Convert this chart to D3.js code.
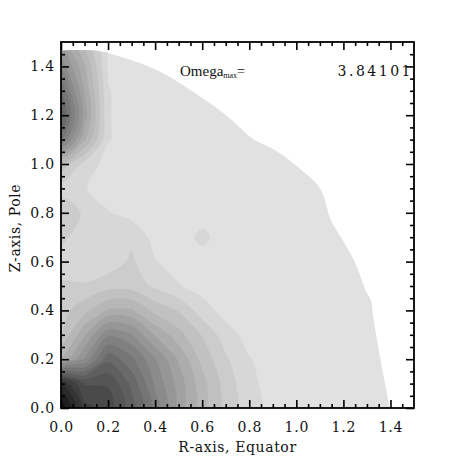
<!DOCTYPE html>
<html><head><meta charset="utf-8">
<script src="https://cdn.jsdelivr.net/npm/d3@7"></script>
<style>html,body{margin:0;padding:0;background:#fff;} svg{display:block;}</style>
</head><body>
<svg id="c" width="463" height="463"></svg>
<script>
// ---- data ----
const gridR = [0.0,0.1,0.2,0.3,0.4,0.5,0.6,0.7,0.8,0.9,1.0,1.1,1.2,1.3,1.4,1.5];
const gridZ = [0.0,0.1,0.2,0.3,0.4,0.5,0.6,0.7,0.8,0.9,1.0,1.1,1.2,1.3,1.4,1.5];
// omega values, one row per Z (bottom row first), columns along R
const omega = [
  [3.84,2.96,2.77,2.37,1.78,1.19,0.75,0.39,0.17,0,0,0,0,0,0,0],
  [3.25,2.66,2.66,2.22,1.64,1.19,0.75,0.39,0.13,0,0,0,0,0,0,0],
  [0.90,1.49,2.22,1.93,1.49,1.05,0.61,0.31,0.09,0,0,0,0,0,0,0],
  [0.46,1.05,1.64,1.49,1.05,0.75,0.46,0.17,0,0,0,0,0,0,0,0],
  [0.39,0.61,0.90,0.90,0.61,0.46,0.17,0,0,0,0,0,0,0,0,0],
  [0.31,0.31,0.39,0.39,0.24,0.09,0,0,0,0,0,0,0,0,0,0],
  [0.17,0.09,0.17,0.31,0.09,0,0,0,0,0,0,0,0,0,0,0],
  [0.33,0.17,0.09,0.24,0,0,0.12,0,0,0,0,0,0,0,0,0],
  [0.46,0.24,0.09,0,0,0,0,0,0,0,0,0,0,0,0,0],
  [0.17,0.09,0,0,0,0,0,0,0,0,0,0,0,0,0,0],
  [0.61,0.20,0,0,0,0,0,0,0,0,0,0,0,0,0,0],
  [1.93,0.90,0.09,0,0,0,0,0,0,0,0,0,0,0,0,0],
  [2.37,1.19,0.09,0,0,0,0,0,0,0,0,0,0,0,0,0],
  [2.08,1.05,0.09,0,0,0,0,0,0,0,0,0,0,0,0,0],
  [1.60,0.90,0.05,0,0,0,0,0,0,0,0,0,0,0,0,0],
  [1.19,0.61,0,0,0,0,0,0,0,0,0,0,0,0,0,0]
];
// outer surface of the star (R, Z), from the equator up to the pole
const surfR = [1.397,1.358,1.329,1.316,1.30,1.244,1.188,1.146,1.103,1.018,0.903,0.818,0.707,0.562,0.422,0.281,0.158,0];
const surfZ = [0,0.197,0.36,0.443,0.47,0.608,0.702,0.772,0.896,0.978,1.06,1.101,1.196,1.295,1.378,1.431,1.463,1.463];
const levels = [0.08,0.28,0.48,0.68,0.88,1.08,1.28,1.48,1.68,1.88,2.08,2.28,2.48,2.68,2.88,3.08,3.28,3.48,3.68];
const omegaMax = "3.84101";
const majorTicks = [0,0.2,0.4,0.6,0.8,1.0,1.2,1.4];
const minorTicks = [0.05,0.1,0.15,0.25,0.3,0.35,0.45,0.5,0.55,0.65,0.7,0.75,0.85,0.9,0.95,1.05,1.1,1.15,1.25,1.3,1.35,1.45];

// ---- layout ----
const L = 61, R = 414, T = 42, B = 408;
const x = d3.scaleLinear().domain([0,1.5]).range([L,R]);
const y = d3.scaleLinear().domain([0,1.5]).range([B,T]);
const gray = d3.scaleLinear().domain([0,3.84101]).range(["#e1e1e1","#101010"]);
const svg = d3.select("#c");
const font = "'DejaVu Serif', serif";

// clip to the star surface
const surfPts = surfR.map((r,i)=>[x(r), y(surfZ[i])]);
const surfLine = d3.line().curve(d3.curveCatmullRom.alpha(0.5));
svg.append("clipPath").attr("id","star").append("path")
  .attr("d", `M${x(0)},${y(0)}L` + surfLine(surfPts).slice(1) + "Z");

const g = svg.append("g").attr("clip-path","url(#star)");
g.append("rect").attr("x",L).attr("y",T).attr("width",R-L).attr("height",B-T).attr("fill",gray(0));

const nx = gridR.length, ny = gridZ.length;
const flat = [];
for (let j=0;j<ny;j++) for (let i=0;i<nx;i++) flat.push(omega[j][i]);
const stepR = gridR[1]-gridR[0], stepZ = gridZ[1]-gridZ[0];
const toPx = p => [x(gridR[0]+(p[0]-0.5)*stepR), y(gridZ[0]+(p[1]-0.5)*stepZ)];
const ringLine = d3.line().curve(d3.curveCatmullRomClosed.alpha(0.5));
const cont = d3.contours().size([nx,ny]).thresholds(levels)(flat);
const stepL = levels[1]-levels[0];
const bandColor = d => gray(Math.min(3.84101, d.value + stepL/2));
g.selectAll("path.c").data(cont).join("path").attr("class","c")
  .attr("d", d => d.coordinates.map(poly => poly.map(ring => ringLine(ring.slice(0,-1).map(toPx))).join("")).join(""))
  .attr("fill", bandColor)
  .attr("stroke", bandColor)
  .attr("stroke-width",0.4);

// ---- axes ----
function styleAxis(sel){
  sel.selectAll("line").attr("stroke","#000").attr("stroke-width",1.6);
  sel.select(".domain").remove();
  sel.selectAll("text").attr("font-family",font).attr("font-size",14).attr("fill","#111").attr("letter-spacing",0.8);
}
const fmt = d3.format(".1f");
svg.append("g").attr("transform",`translate(0,${B})`)
  .call(d3.axisBottom(x).tickValues(majorTicks).tickSize(-8).tickPadding(14).tickFormat(fmt)).call(styleAxis);
svg.append("g").attr("transform",`translate(0,${B})`)
  .call(d3.axisBottom(x).tickValues(minorTicks).tickSize(-4).tickFormat("")).call(styleAxis);
svg.append("g").attr("transform",`translate(0,${T})`)
  .call(d3.axisTop(x).tickValues(majorTicks).tickSize(-8).tickFormat("")).call(styleAxis);
svg.append("g").attr("transform",`translate(0,${T})`)
  .call(d3.axisTop(x).tickValues(minorTicks).tickSize(-4).tickFormat("")).call(styleAxis);
svg.append("g").attr("transform",`translate(${L},0)`)
  .call(d3.axisLeft(y).tickValues(majorTicks).tickSize(-8).tickPadding(6).tickFormat(fmt)).call(styleAxis);
svg.append("g").attr("transform",`translate(${L},0)`)
  .call(d3.axisLeft(y).tickValues(minorTicks).tickSize(-4).tickFormat("")).call(styleAxis);
svg.append("g").attr("transform",`translate(${R},0)`)
  .call(d3.axisRight(y).tickValues(majorTicks).tickSize(-8).tickFormat("")).call(styleAxis);
svg.append("g").attr("transform",`translate(${R},0)`)
  .call(d3.axisRight(y).tickValues(minorTicks).tickSize(-4).tickFormat("")).call(styleAxis);

svg.append("rect").attr("x",L).attr("y",T).attr("width",R-L).attr("height",B-T)
  .attr("fill","none").attr("stroke","#000").attr("stroke-width",1.8);

// axis titles
svg.append("text").attr("x",(L+R)/2).attr("y",452).attr("text-anchor","middle")
  .attr("font-family",font).attr("font-size",14).attr("letter-spacing",0.6).attr("fill","#111")
  .text("R-axis, Equator");
svg.append("text").attr("transform",`translate(20,${(T+B)/2+3}) rotate(-90)`).attr("text-anchor","middle")
  .attr("font-family",font).attr("font-size",14).attr("letter-spacing",0.6).attr("fill","#111")
  .text("Z-axis, Pole");

// label inside the plot
const t = svg.append("text").attr("x",180).attr("y",76)
  .attr("font-family","'Liberation Serif', serif").attr("font-size",15).attr("fill","#111");
t.append("tspan").attr("fill","#111").text("Omega");
t.append("tspan").attr("fill","#111").attr("font-size",8).attr("dy",2).text("max");
t.append("tspan").attr("fill","#111").attr("dy",-2).attr("font-size",14).text("=");
svg.append("text").attr("x",413).attr("y",76).attr("text-anchor","end")
  .attr("font-family",font).attr("font-size",14).attr("letter-spacing",2.5).attr("fill","#111")
  .text(omegaMax);
</script>
</body></html>
